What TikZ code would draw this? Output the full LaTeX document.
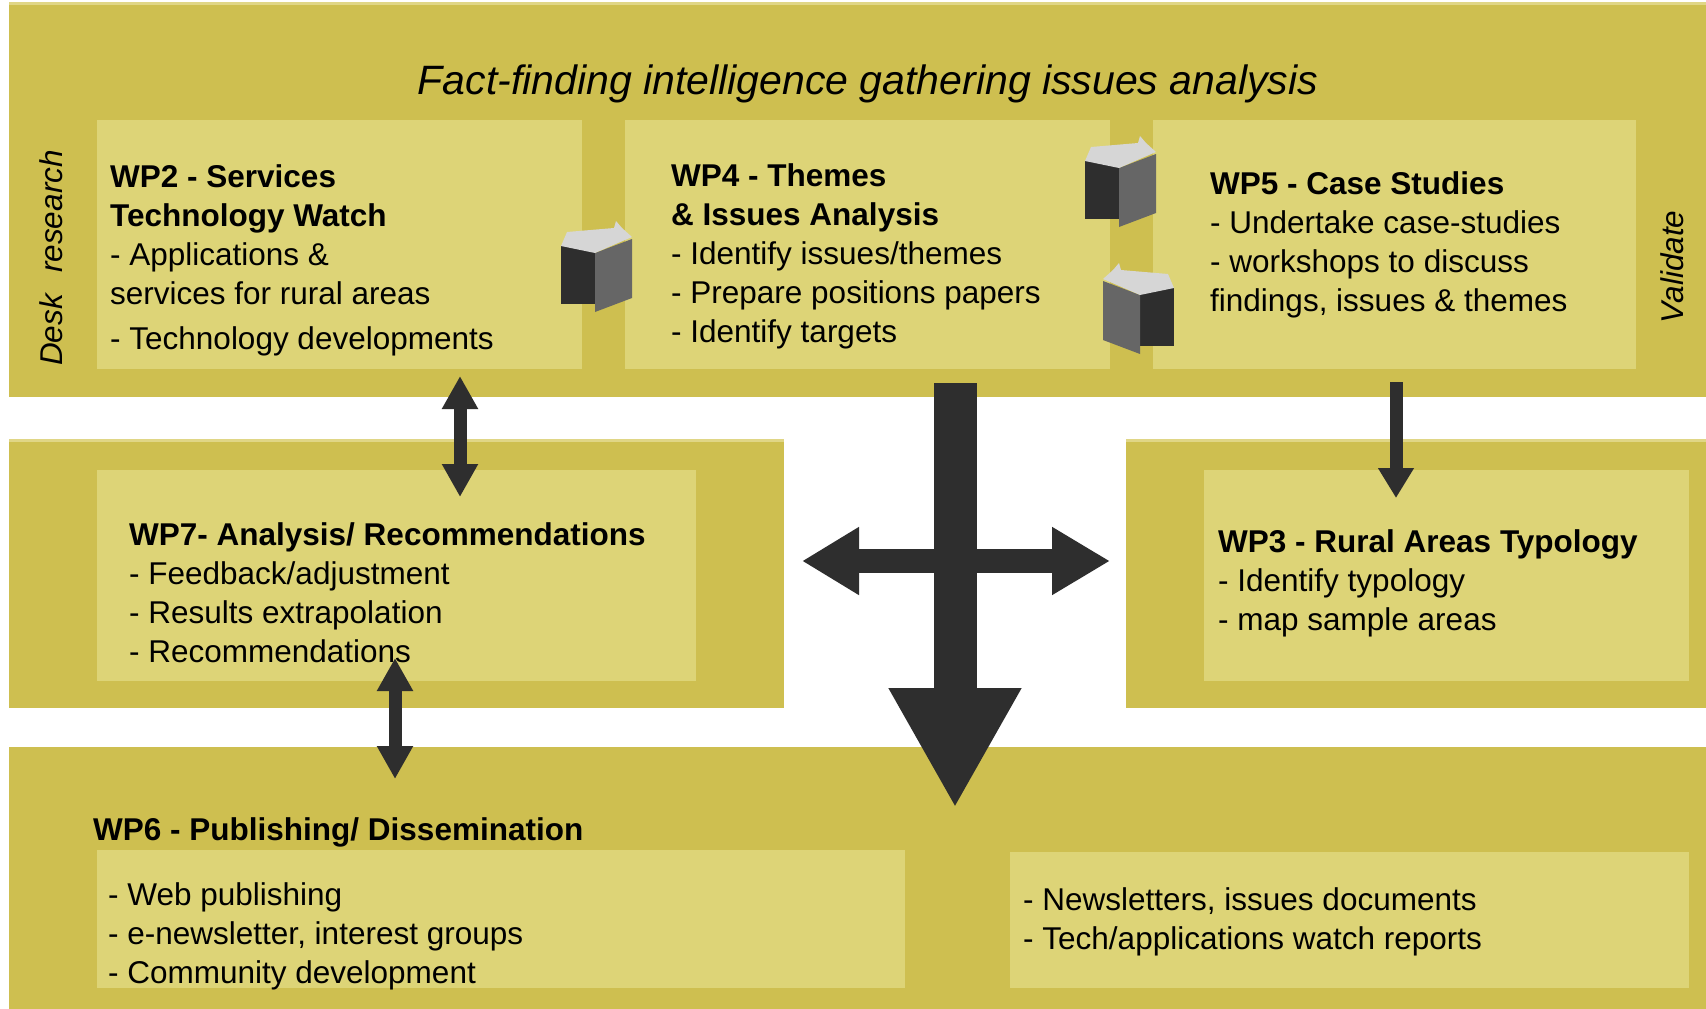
\documentclass[tikz,border=0pt]{standalone}
\usepackage{fontspec}
\setmainfont{Liberation Sans}
\usetikzlibrary{arrows.meta}
\definecolor{bandc}{HTML}{CEBF50}
\definecolor{edgec}{HTML}{E0D686}
\definecolor{innerc}{HTML}{DDD477}
\definecolor{darkc}{HTML}{2E2E2E}
\definecolor{greyc}{HTML}{666666}
\definecolor{lightc}{HTML}{D6D6D6}
\tikzset{
  x=1pt,y=-1pt,
  band/.style={fill=bandc,draw=none},
  inner/.style={fill=innerc,draw=none},
  bodytext/.style={anchor=north west,inner sep=0pt,align=left,font=\fontsize{31.5}{39}\selectfont},
  smallarrow/.style={draw=darkc,line width=13pt,{Triangle[length=33pt,width=34pt,fill=darkc]}-{Triangle[length=33pt,width=34pt,fill=darkc]}},
  dark/.style={fill=darkc,draw=none},
  grey/.style={fill=greyc,draw=none},
  lite/.style={fill=lightc,draw=none},
}
\newcommand{\bookshape}{%
  \fill[dark] (561,246) rectangle (595,304);
  \fill[grey] (595,253) -- (632,239) -- (632,298) -- (595,312) -- cycle;
  \fill[lite] (561,246) -- (567,232) -- (614,228) -- (616,221) -- (622,228) -- (632,237) -- (595,253) -- cycle;
}
\begin{document}
\begin{tikzpicture}
\useasboundingbox (0,0) rectangle (1706,1009);
\fill[white] (0,0) rectangle (1706,1009);
% bands
\fill[band] (9,5) rectangle (1706,397);
\fill[band] (9,441) rectangle (784,708);
\fill[band] (1126,441) rectangle (1706,708);
\fill[band] (9,747) rectangle (1706,1009);
\fill[edgec] (9,2) rectangle (1706,5);
\fill[edgec] (9,439) rectangle (784,442);
\fill[edgec] (1126,439) rectangle (1706,442);
% inner boxes
\fill[inner] (97,120) rectangle (582,369);
\fill[inner] (625,120) rectangle (1110,369);
\fill[inner] (1153,120) rectangle (1636,369);
\fill[inner] (97,470) rectangle (696,681);
\fill[inner] (1204,470) rectangle (1689,681);
\fill[inner] (97,850) rectangle (905,988);
\fill[inner] (1010,852) rectangle (1689,988);
% heading
\node[inner sep=0pt,font=\fontsize{41}{48}\selectfont\itshape] (head) at (868,84) {Fact-finding intelligence gathering issues analysis};
\node[inner sep=0pt,rotate=90,font=\fontsize{31.5}{39}\selectfont\itshape] (desk) at (51,258) {Desk\hspace{0.4em} research};
\node[inner sep=0pt,rotate=90,font=\fontsize{31.5}{39}\selectfont\itshape] (val) at (1672,267) {Validate};
% texts
\node[bodytext] (wp2) at (110,160) {\strut\textbf{WP2 - Services}\\\textbf{Technology Watch}\\- Applications \&\\services for rural areas\\[6pt]- Technology developments};
\node[bodytext] (wp4) at (671,159) {\strut\textbf{WP4 - Themes}\\\textbf{\& Issues Analysis}\\- Identify issues/themes\\- Prepare positions papers\\- Identify targets};
\node[bodytext] (wp5) at (1210,167) {\strut\textbf{WP5 - Case Studies}\\- Undertake case-studies\\- workshops to discuss\\findings, issues \& themes};
\node[bodytext] (wp7) at (129,518) {\strut\textbf{WP7- Analysis/ Recommendations}\\- Feedback/adjustment\\- Results extrapolation\\- Recommendations};
\node[bodytext] (wp3) at (1218,525) {\strut\textbf{WP3 - Rural Areas Typology}\\- Identify typology\\- map sample areas};
\node[bodytext] (wp6) at (93,813) {\strut\textbf{WP6 - Publishing/ Dissemination}};
\node[bodytext] (wp6a) at (108,878) {\strut- Web publishing\\- e-newsletter, interest groups\\- Community development};
\node[bodytext] (wp6b) at (1023,883) {\strut- Newsletters, issues documents\\- Tech/applications watch reports};
% books
\bookshape
\begin{scope}[shift={(524,-85)}]\bookshape\end{scope}
\begin{scope}[xscale=-1,shift={(-1735,42)}]\bookshape\end{scope}
% connector end points
\coordinate (a1) at (460,376);
\coordinate (a2) at (460,497);
\coordinate (b1) at (395,658);
\coordinate (b2) at (395,779);
\coordinate (c1) at (1396,382);
\coordinate (c2) at (1396,498);
\coordinate (d1) at (955,383);
\coordinate (d2) at (955,808);
\coordinate (e1) at (802,561);
\coordinate (e2) at (1110,561);
% connectors
\draw[smallarrow] (a1) -- (a2);
\draw[smallarrow] (b1) -- (b2);
\draw[draw=darkc,line width=13pt,-{Triangle[length=30pt,width=34pt,fill=darkc]}] (c1) -- (c2);
\draw[draw=darkc,line width=24pt,{Triangle[length=57pt,width=64pt,fill=darkc]}-{Triangle[length=58pt,width=64pt,fill=darkc]}] (e1) -- (e2);
\draw[draw=darkc,line width=43pt,-{Triangle[length=120pt,width=124pt,fill=darkc]}] (d1) -- (d2);
\end{tikzpicture}
\end{document}
